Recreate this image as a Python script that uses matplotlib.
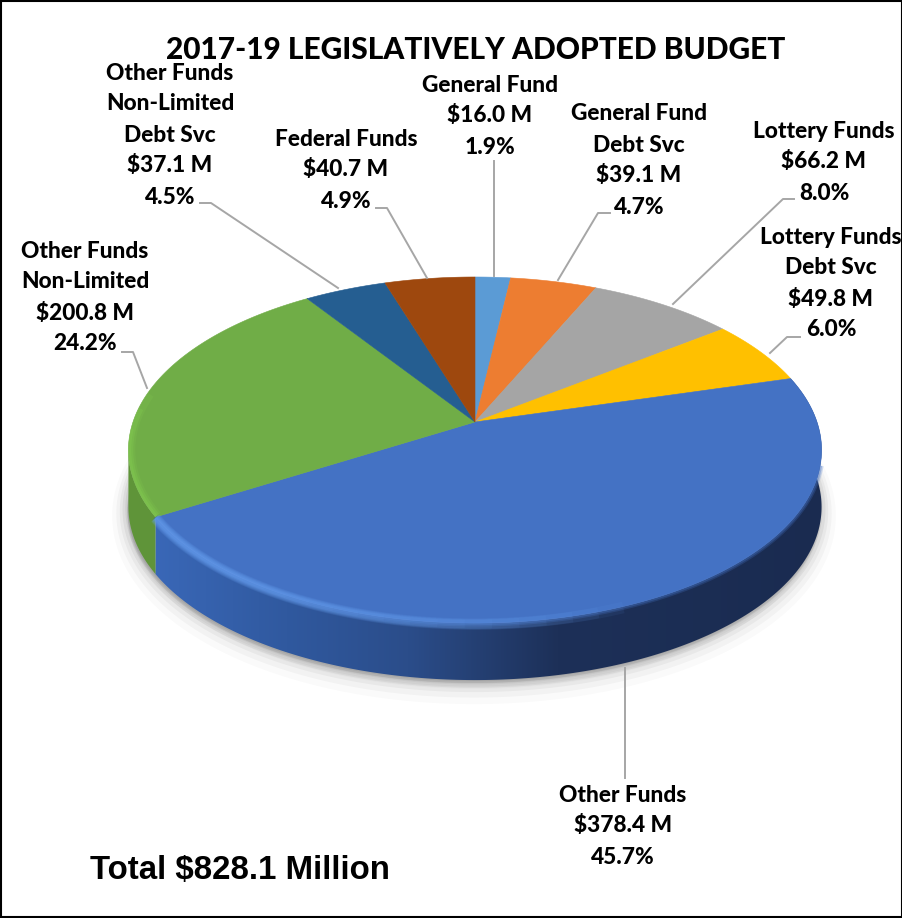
import numpy as np
import matplotlib
matplotlib.use("Agg")
import matplotlib.pyplot as plt
from matplotlib.patches import PathPatch, Rectangle
from matplotlib.path import Path
from matplotlib.colors import LinearSegmentedColormap

TITLE = "2017-19 LEGISLATIVELY ADOPTED BUDGET"
TOTAL = "Total $828.1 Million"

# clockwise from 12 o'clock
funds = ["General Fund", "General Fund\nDebt Svc", "Lottery Funds", "Lottery Funds\nDebt Svc",
         "Other Funds", "Other Funds\nNon-Limited", "Other Funds\nNon-Limited\nDebt Svc", "Federal Funds"]
amounts = [16.0, 39.1, 66.2, 49.8, 378.4, 200.8, 37.1, 40.7]
amount_labels = ["$16.0 M", "$39.1 M", "$66.2 M", "$49.8 M", "$378.4 M", "$200.8 M", "$37.1 M", "$40.7 M"]
pct_labels = ["1.9%", "4.7%", "8.0%", "6.0%", "45.7%", "24.2%", "4.5%", "4.9%"]
colors = ["#5b9bd5", "#ed7d31", "#a5a5a5", "#ffc000", "#4472c4", "#70ad47", "#255e91", "#9e480e"]

# centre x and first line y of each label
label_pos = [(490, 85), (639, 114), (824, 131), (831, 237), (623, 795), (85, 251), (170, 73), (346, 139)]
leaders = [[(494, 161), (494, 276)],
           [(610, 213), (598, 213), (558, 280)],
           [(794, 199), (783, 199), (673, 304)],
           [(800, 337), (787, 337), (770, 353)],
           [(625, 778), (625, 668)],
           [(122, 352), (133, 352), (147, 388)],
           [(200, 203), (211, 203), (338, 288)],
           [(376, 208), (387, 208), (427, 278)]]

CX, CY = 475, 422
RX, RY = 342, 168.5
PERSP = 0.162
DEPTH = 57
LINE_H = 31


def rim(frac):
    # point on the pie edge, frac 0..1 clockwise from the top
    a = 2 * np.pi * np.asarray(frac)
    w = 1 + PERSP * np.cos(a)
    return CX + RX * np.sin(a) / w, CY - RY * np.cos(a) / w


def closed(x, y):
    verts = np.column_stack([np.r_[x, x[0]], np.r_[y, y[0]]])
    codes = [Path.MOVETO] + [Path.LINETO] * (len(x) - 1) + [Path.CLOSEPOLY]
    return Path(verts, codes)


fig = plt.figure(figsize=(9.03, 9.18), dpi=100)
ax = fig.add_axes([0, 0, 1, 1])
ax.set_xlim(0, 903)
ax.set_ylim(918, 0)
ax.axis("off")

edges = np.r_[0, np.cumsum(amounts)] / sum(amounts)
t = np.linspace(0, 1, 400)
xo, yo = rim(t)

# soft shadow under the disc
for grow, alpha in zip([22, 16, 11, 7, 3], [0.02, 0.03, 0.04, 0.05, 0.06]):
    ax.add_patch(PathPatch(closed(xo - 1, yo + DEPTH + grow * 0.4), fc="#000000", ec="#000000",
                           lw=grow, alpha=alpha, zorder=1))

# side walls
blue = 4
green = 5
tb = np.linspace(edges[blue], edges[blue + 1], 200)
xb, yb = rim(tb)
wall_b = closed(np.r_[xb, xb[::-1]], np.r_[yb, yb[::-1] + DEPTH])
cmap = LinearSegmentedColormap.from_list("wall", [(0, "#3a68b8"), (0.2, "#30599f"), (0.38, "#2b4d8a"),
                                                  (0.6, "#1d3058"), (1, "#1a2b50")])
im = ax.imshow(np.linspace(0, 1, 256)[None, :], extent=(150, 830, 918, 0), cmap=cmap, aspect="auto", zorder=2)
im.set_clip_path(PathPatch(wall_b, transform=ax.transData))
ax.set_xlim(0, 903)
ax.set_ylim(918, 0)

tg = np.linspace(edges[green], edges[green] + 0.06, 60)
xg, yg = rim(tg)
ax.add_patch(PathPatch(closed(np.r_[xg, xg[::-1]], np.r_[yg, yg[::-1] + DEPTH]), fc="#5f9439", ec="none", zorder=2))

# top face
for i, c in enumerate(colors):
    tw = np.linspace(edges[i], edges[i + 1], 150)
    xw, yw = rim(tw)
    ax.add_patch(PathPatch(closed(np.r_[CX, xw], np.r_[CY, yw]), fc=c, ec=c, lw=0.4, zorder=3))

# soft edge where the top meets the wall, only below the widest point
xr, yr = rim(np.linspace(0.29, edges[blue + 1], 200))
for lw, alpha in [(5, 0.25), (3, 0.35)]:
    ax.plot(xr, yr, color="#4472c4", lw=lw, alpha=alpha, solid_capstyle="butt", zorder=4)

# bevel highlight along the front of the rim, fades out towards the right
for start in np.linspace(0.44, 0.6, 16):
    xr, yr = rim(np.linspace(start, edges[blue + 1], 120))
    ax.plot(xr, yr + 1, color="#6ea6f7", lw=2 + 40 * (0.6 - start), alpha=0.07, solid_capstyle="butt", zorder=4)

face = PathPatch(closed(xo, yo), transform=ax.transData)
for end, lw, alpha in [(0.115, 10, 0.15), (0.10, 7, 0.25), (0.08, 4, 0.3)]:
    xr, yr = rim(np.linspace(edges[green], edges[green] + end, 60))
    ln, = ax.plot(xr, yr, color="#86cf52", lw=lw, alpha=alpha, solid_capstyle="butt", zorder=4)
    ln.set_clip_path(face)

# leader lines
for pts in leaders:
    xs, ys = zip(*pts)
    ax.plot(xs, ys, color="#a6a6a6", lw=1.4, zorder=5)

# data labels
for fund, amt, pct, (lx, ly) in zip(funds, amount_labels, pct_labels, label_pos):
    lines = fund.split("\n") + [amt, pct]
    for n, s in enumerate(lines):
        ax.text(lx, ly + n * LINE_H, s, ha="center", va="center", family="Lato", weight="black",
                fontsize=16.3, color="black", zorder=6)

ax.text(476, 50, TITLE, ha="center", va="center", family="Lato", weight="black", fontsize=21.5, color="black", zorder=6)
ax.text(90, 871, TOTAL, ha="left", va="center", family="Liberation Sans", weight="bold",
        fontsize=23.8, color="black", zorder=6)

ax.add_patch(Rectangle((1, 1), 901, 916, fc="none", ec="black", lw=1.5, zorder=7))

fig.savefig("out.png", dpi=100)
